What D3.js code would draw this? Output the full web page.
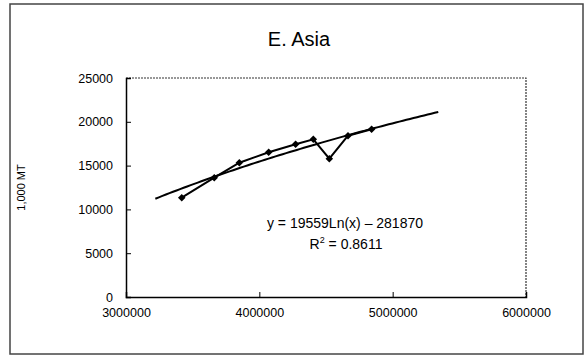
<!DOCTYPE html>
<html>
<head>
<meta charset="utf-8">
<script src="https://cdn.jsdelivr.net/npm/d3@7"></script>
<style>
  html, body { margin: 0; padding: 0; background: #fff; }
  svg { display: block; font-family: "Liberation Sans", Arial, Helvetica, sans-serif; }
</style>
</head>
<body>
<svg id="chart" width="586" height="358"></svg>
<script>
// Observed series: population (x) against production in 1,000 MT (y)
const xValues = [3418000, 3662000, 3850000, 4070000, 4272000, 4405000, 4525000, 4665000, 4842000];
const yValues = [11340, 13620, 15330, 16520, 17430, 18000, 15790, 18410, 19150];

// Axis ticks
const xTicks = [3000000, 4000000, 5000000, 6000000];
const yTicks = [0, 5000, 10000, 15000, 20000, 25000];

// Logarithmic trend: y = a*ln(x) + b
const trendA = 19559;
const trendB = -281870;
const trendRange = [3220000, 5342000];
const equationLines = ["y = 19559Ln(x) \u2013 281870", "R2 = 0.8611"];

const title = "E. Asia";
const yAxisTitle = "1,000 MT";

const svg = d3.select("#chart");

// Chart frame
svg.append("rect")
  .attr("x", 10).attr("y", 4).attr("width", 573).attr("height", 350)
  .attr("fill", "#fff").attr("stroke", "#444").attr("stroke-width", 1.5);

const plot = { left: 126, right: 526, top: 78, bottom: 297 };

const x = d3.scaleLinear().domain([3000000, 6000000]).range([plot.left, plot.right]);
const y = d3.scaleLinear().domain([0, 25000]).range([plot.bottom, plot.top]);

// Plot area border (top / right)
svg.append("path")
  .attr("d", `M${plot.left},${plot.top}H${plot.right}V${plot.bottom}`)
  .attr("fill", "none").attr("stroke", "#333").attr("stroke-width", 1.2)
  .attr("stroke-dasharray", "2,1");

// Axes with inside ticks
const yAxis = d3.axisLeft(y).tickValues(yTicks).tickSize(-5).tickPadding(16)
  .tickFormat(d3.format("d"));
const xAxis = d3.axisBottom(x).tickValues(xTicks).tickSize(-5).tickPadding(16)
  .tickFormat(d3.format("d"));

const gy = svg.append("g").attr("transform", `translate(${plot.left},0)`).call(yAxis);
const gx = svg.append("g").attr("transform", `translate(0,${plot.bottom})`).call(xAxis);

[gx, gy].forEach(g => {
  g.select(".domain").attr("stroke", "#000").attr("stroke-width", 1.5);
  g.selectAll(".tick line").attr("stroke", "#000").attr("stroke-width", 1);
  g.selectAll(".tick text").attr("fill", "#000")
    .style("font-size", "12.5px")
    .style("font-family", "'Liberation Sans', Arial, sans-serif");
});
gx.selectAll(".tick text").attr("dy", "0.71em").attr("y", 11);
gy.selectAll(".tick text").attr("x", -13);

// Title
svg.append("text")
  .attr("x", 299).attr("y", 46)
  .attr("text-anchor", "middle")
  .style("font-size", "20px")
  .text(title);

// Y axis title
svg.append("text")
  .attr("transform", `translate(25,${(plot.top + plot.bottom) / 2}) rotate(-90)`)
  .attr("text-anchor", "middle")
  .style("font-size", "11px")
  .text(yAxisTitle);

// Trend line sampled from the fitted equation
const trendX = d3.range(trendRange[0], trendRange[1] + 1, (trendRange[1] - trendRange[0]) / 80);
const trendPts = trendX.map(v => [v, trendA * Math.log(v) + trendB]);
svg.append("path")
  .datum(trendPts)
  .attr("fill", "none").attr("stroke", "#000").attr("stroke-width", 2)
  .attr("d", d3.line().x(d => x(d[0])).y(d => y(d[1])));

// Observed series line
const pts = xValues.map((v, i) => [v, yValues[i]]);
svg.append("path")
  .datum(pts)
  .attr("fill", "none").attr("stroke", "#000").attr("stroke-width", 2)
  .attr("d", d3.line().x(d => x(d[0])).y(d => y(d[1])));

// Diamond markers
svg.selectAll(".marker")
  .data(pts)
  .join("path")
  .attr("class", "marker")
  .attr("transform", d => `translate(${x(d[0])},${y(d[1])})`)
  .attr("d", d3.symbol().type(d3.symbolDiamond2).size(36))
  .attr("fill", "#000");

// Equation and R-squared
const eq = svg.append("g").style("font-size", "14px").attr("text-anchor", "middle");
eq.append("text").attr("x", 345).attr("y", 228).text(equationLines[0]);
const r2 = eq.append("text").attr("x", 346).attr("y", 249);
r2.append("tspan").text("R");
r2.append("tspan").attr("dy", -6).style("font-size", "9px").text("2");
r2.append("tspan").attr("dy", 6).text(" = 0.8611");
</script>
</body>
</html>
